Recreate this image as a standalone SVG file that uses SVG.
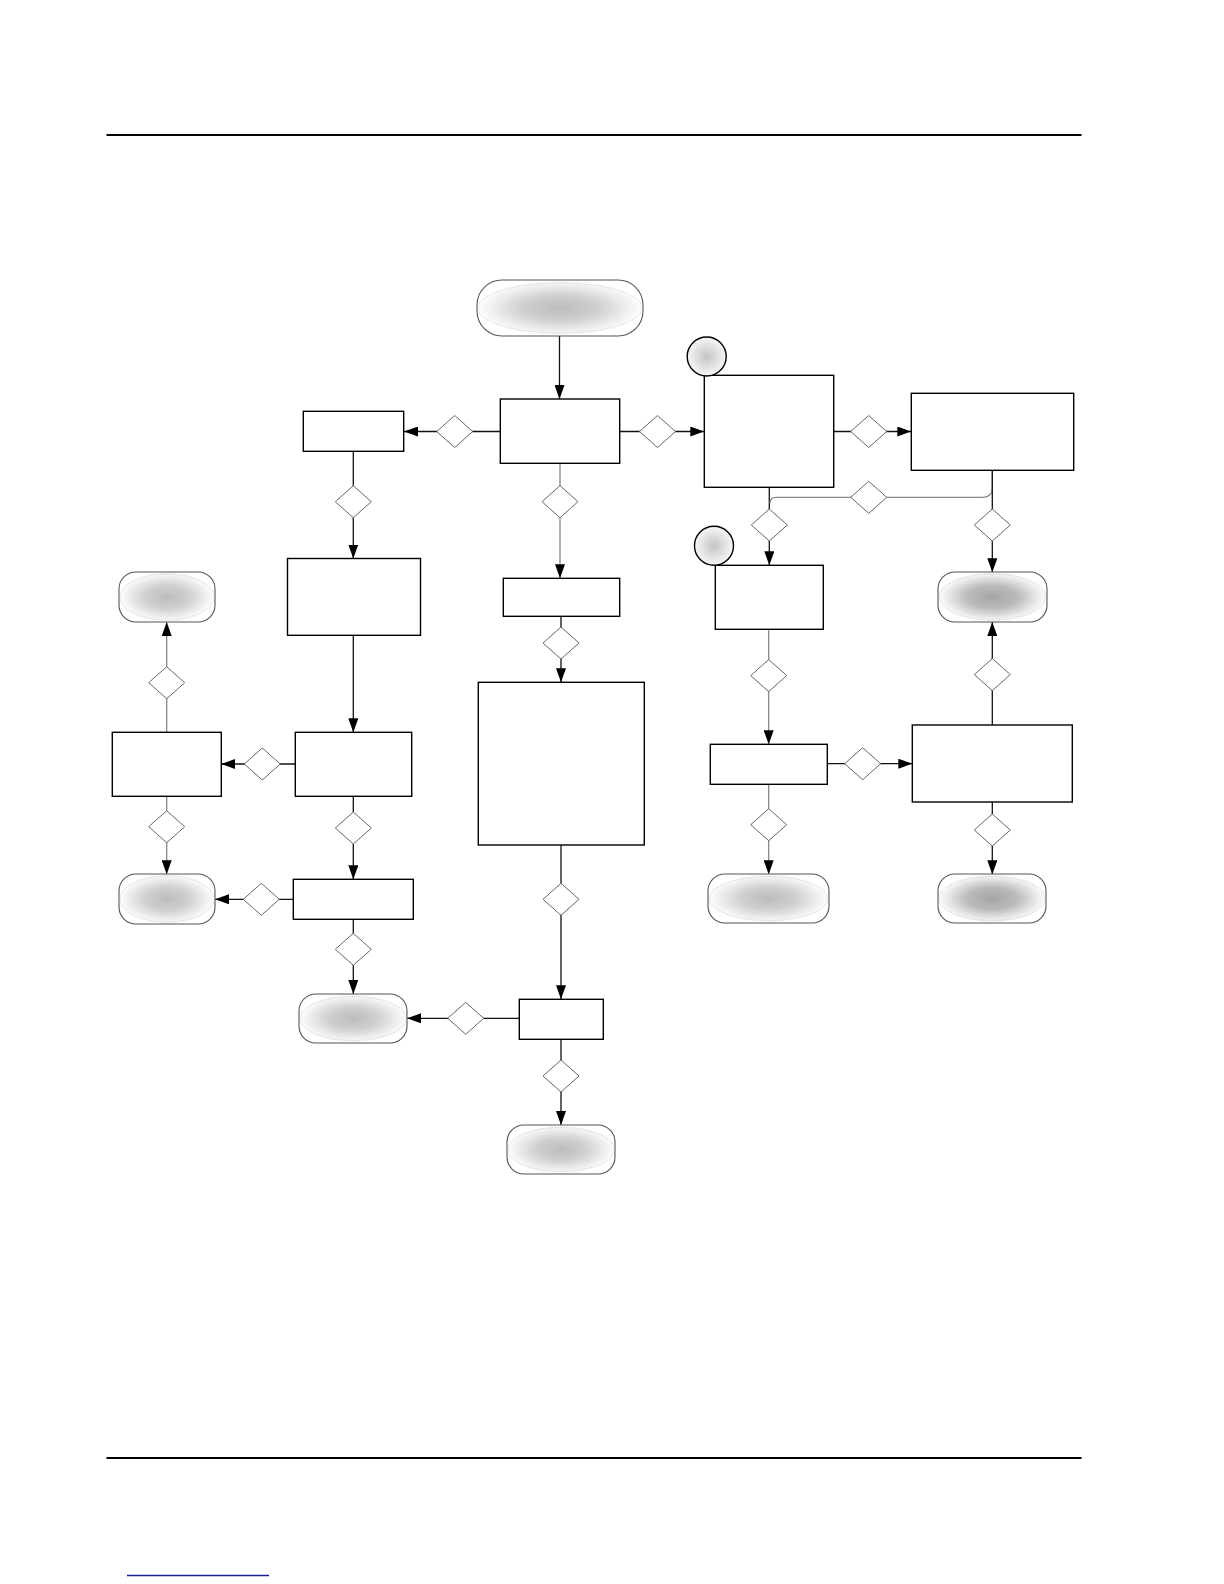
<svg xmlns="http://www.w3.org/2000/svg" width="1224" height="1584" viewBox="0 0 1224 1584">
<style>
.box{fill:#fff;stroke:#000;stroke-width:1.4}
.term{stroke:#555;stroke-width:1.1}
.inner{fill:none;stroke:#ccc;stroke-width:0.7;stroke-dasharray:2 1}
.dia{fill:#fff;stroke:#666;stroke-width:1}
.con{fill:none;stroke:#111;stroke-width:1.3}
.gcon{fill:none;stroke:#888;stroke-width:1.3}
.circ{stroke:#000;stroke-width:1.4;fill:url(#gc)}
</style>
<defs>
<marker id="arr" markerUnits="userSpaceOnUse" markerWidth="14" markerHeight="10" refX="14" refY="5" orient="auto">
<path d="M0,0 L14,5 L0,10 z" fill="#000"/>
</marker>
<radialGradient id="gt" cx="0.5" cy="0.5" r="0.5">
<stop offset="0" stop-color="#bdbdbd"/>
<stop offset="0.45" stop-color="#cfcfcf"/>
<stop offset="1" stop-color="#ffffff"/>
</radialGradient>
<radialGradient id="gd" cx="0.5" cy="0.5" r="0.5">
<stop offset="0" stop-color="#a6a6a6"/>
<stop offset="0.45" stop-color="#bababa"/>
<stop offset="1" stop-color="#ffffff"/>
</radialGradient>
<radialGradient id="gc" cx="0.5" cy="0.5" r="0.5">
<stop offset="0" stop-color="#c4c4c4"/>
<stop offset="1" stop-color="#f7f7f7"/>
</radialGradient>
</defs>

<line x1="106.5" y1="135" x2="1081.5" y2="135" stroke="#000" stroke-width="2"/>
<line x1="106.5" y1="1458" x2="1081.5" y2="1458" stroke="#000" stroke-width="2"/>
<line x1="127" y1="1575.5" x2="269" y2="1575.5" stroke="#1c1c9c" stroke-width="1.3"/>

<g id="connectors">
<path class="con" d="M559.5,336 V399" marker-end="url(#arr)"/>
<path class="con" d="M500.3,431.5 H404" marker-end="url(#arr)"/>
<path class="con" d="M619.7,431.5 H704.3" marker-end="url(#arr)"/>
<path class="con" d="M833.7,431.5 H911.3" marker-end="url(#arr)"/>
<path class="con" d="M353.3,451.3 V558.5" marker-end="url(#arr)"/>
<path class="gcon" d="M560,463.3 V578.3" marker-end="url(#arr)"/>
<path class="con" d="M561,616.3 V682.3" marker-end="url(#arr)"/>
<path class="con" d="M561,845 V999.3" marker-end="url(#arr)"/>
<path class="con" d="M519.3,1018.3 H407" marker-end="url(#arr)"/>
<path class="con" d="M561,1039.3 V1125" marker-end="url(#arr)"/>
<path class="con" d="M353.3,635.3 V732.3" marker-end="url(#arr)"/>
<path class="con" d="M295.3,764 H221.3" marker-end="url(#arr)"/>
<path class="con" d="M353.3,796.3 V879.3" marker-end="url(#arr)"/>
<path class="con" d="M293.3,899.3 H215" marker-end="url(#arr)"/>
<path class="con" d="M353.3,919.3 V994" marker-end="url(#arr)"/>
<path class="gcon" d="M166.7,732.3 V622" marker-end="url(#arr)"/>
<path class="gcon" d="M166.7,796.3 V874.3" marker-end="url(#arr)"/>
<path class="con" d="M769.3,487.3 V565.3" marker-end="url(#arr)"/>
<path class="gcon" d="M992.3,470.3 V488 Q992.3,497.3 983,497.3 H776 Q770,497.3 770,503"/>
<path class="con" d="M992.3,470.3 V572.3" marker-end="url(#arr)"/>
<path class="gcon" d="M768.7,629.3 V744.3" marker-end="url(#arr)"/>
<path class="con" d="M827.3,763.7 H912.3" marker-end="url(#arr)"/>
<path class="gcon" d="M768.7,784.3 V874.3" marker-end="url(#arr)"/>
<path class="con" d="M992.3,725 V622" marker-end="url(#arr)"/>
<path class="con" d="M992.3,802 V874.3" marker-end="url(#arr)"/>
</g>

<g id="start"><rect class="term" x="477" y="280" width="166" height="56" rx="25" fill="url(#gt)"/><ellipse class="inner" cx="560" cy="308" rx="82" ry="25"/></g>
<g id="term-l1"><rect class="term" x="119" y="572" width="96" height="50" rx="17" fill="url(#gt)"/><ellipse class="inner" cx="167" cy="597" rx="47" ry="23"/></g>
<g id="term-l3"><rect class="term" x="119" y="874" width="96" height="50" rx="17" fill="url(#gt)"/><ellipse class="inner" cx="167" cy="899" rx="47" ry="23"/></g>
<g id="term-m4"><rect class="term" x="299" y="994" width="108" height="49" rx="17" fill="url(#gt)"/><ellipse class="inner" cx="353" cy="1018.5" rx="53" ry="22"/></g>
<g id="term-bottom"><rect class="term" x="507" y="1125" width="108" height="49" rx="17" fill="url(#gt)"/><ellipse class="inner" cx="561" cy="1149.5" rx="53" ry="22"/></g>
<g id="term-r1"><rect class="term" x="938" y="572" width="109" height="50" rx="17" fill="url(#gd)"/><ellipse class="inner" cx="992.5" cy="597" rx="53" ry="23"/></g>
<g id="term-r3"><rect class="term" x="708" y="874" width="121" height="49" rx="17" fill="url(#gt)"/><ellipse class="inner" cx="768.5" cy="898.5" rx="59" ry="22"/></g>
<g id="term-r4"><rect class="term" x="938" y="874" width="108" height="49" rx="17" fill="url(#gd)"/><ellipse class="inner" cx="992" cy="898.5" rx="53" ry="22"/></g>

<g id="box-center"><rect class="box" x="500.3" y="399" width="119.4" height="64.3"/></g>
<g id="box-m0"><rect class="box" x="303.3" y="411.3" width="100.4" height="40"/></g>
<g id="box-a"><rect class="box" x="704.3" y="375.3" width="129.4" height="112"/></g>
<g id="box-b"><rect class="box" x="911.3" y="393.3" width="162.4" height="77"/></g>
<g id="box-m1"><rect class="box" x="287.5" y="558.5" width="133" height="76.8"/></g>
<g id="box-c1"><rect class="box" x="503.3" y="578.3" width="116.4" height="38"/></g>
<g id="box-c"><rect class="box" x="715.3" y="565.3" width="108" height="64"/></g>
<g id="box-c3"><rect class="box" x="478.3" y="682.3" width="166" height="162.7"/></g>
<g id="box-m2"><rect class="box" x="295.3" y="732.3" width="116.4" height="64"/></g>
<g id="box-l2"><rect class="box" x="112.3" y="732.3" width="109" height="64"/></g>
<g id="box-m3"><rect class="box" x="293.3" y="879.3" width="120" height="40"/></g>
<g id="box-c4"><rect class="box" x="519.3" y="999.3" width="84" height="40"/></g>
<g id="box-c2"><rect class="box" x="710.3" y="744.3" width="117" height="40"/></g>
<g id="box-b2"><rect class="box" x="912.3" y="725" width="160" height="77"/></g>

<g id="circle-1"><circle class="circ" cx="706.7" cy="356.5" r="19.5"/></g>
<g id="circle-2"><circle class="circ" cx="714" cy="545.7" r="19.5"/></g>

<g id="decisions">
<polygon id="d1" class="dia" points="454.7,415.5 472.7,431.5 454.7,447.5 436.7,431.5"/>
<polygon id="d2" class="dia" points="657.5,415.5 675.5,431.5 657.5,447.5 639.5,431.5"/>
<polygon id="d3" class="dia" points="868.7,415.5 886.7,431.5 868.7,447.5 850.7,431.5"/>
<polygon id="d4" class="dia" points="353.3,485.7 371.3,501.7 353.3,517.7 335.3,501.7"/>
<polygon id="d5" class="dia" points="560,485.7 578,501.7 560,517.7 542,501.7"/>
<polygon id="d6" class="dia" points="561,627 579,643 561,659 543,643"/>
<polygon id="d7" class="dia" points="561,883.3 579,899.3 561,915.3 543,899.3"/>
<polygon id="d8" class="dia" points="465.7,1002.3 483.7,1018.3 465.7,1034.3 447.7,1018.3"/>
<polygon id="d9" class="dia" points="561,1060 579,1076 561,1092 543,1076"/>
<polygon id="d10" class="dia" points="262.3,748 280.3,764 262.3,780 244.3,764"/>
<polygon id="d11" class="dia" points="353.3,812 371.3,828 353.3,844 335.3,828"/>
<polygon id="d12" class="dia" points="261.3,883.3 279.3,899.3 261.3,915.3 243.3,899.3"/>
<polygon id="d13" class="dia" points="353.3,933.3 371.3,949.3 353.3,965.3 335.3,949.3"/>
<polygon id="d14" class="dia" points="166.7,666.7 184.7,682.7 166.7,698.7 148.7,682.7"/>
<polygon id="d15" class="dia" points="166.7,810.7 184.7,826.7 166.7,842.7 148.7,826.7"/>
<polygon id="d16" class="dia" points="769.3,509 787.3,525 769.3,541 751.3,525"/>
<polygon id="d17" class="dia" points="868.7,481.3 886.7,497.3 868.7,513.3 850.7,497.3"/>
<polygon id="d18" class="dia" points="992.3,509 1010.3,525 992.3,541 974.3,525"/>
<polygon id="d19" class="dia" points="768.7,659.6 786.7,675.6 768.7,691.6 750.7,675.6"/>
<polygon id="d20" class="dia" points="862.7,747.7 880.7,763.7 862.7,779.7 844.7,763.7"/>
<polygon id="d21" class="dia" points="768.7,808.7 786.7,824.7 768.7,840.7 750.7,824.7"/>
<polygon id="d22" class="dia" points="992.3,658.6 1010.3,674.6 992.3,690.6 974.3,674.6"/>
<polygon id="d23" class="dia" points="992.3,814 1010.3,830 992.3,846 974.3,830"/>
</g>
</svg>
